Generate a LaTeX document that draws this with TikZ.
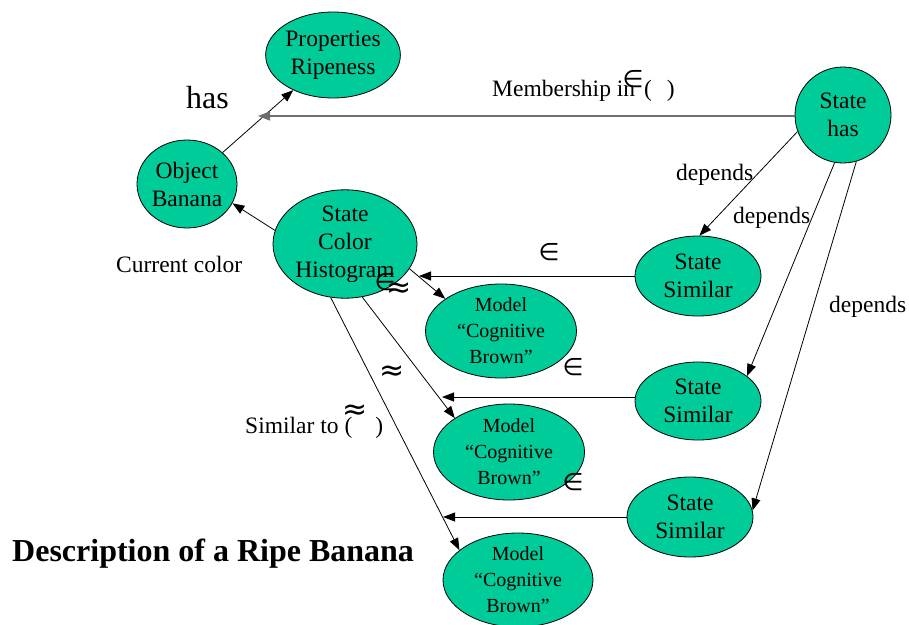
\documentclass[tikz,border=0pt]{standalone}
\usepackage{fontspec}
\setmainfont{Liberation Serif}
\newfontfamily\symf{DejaVu Sans}
\usetikzlibrary{shapes.geometric,arrows.meta}
\definecolor{nodegreen}{HTML}{00CC99}
\definecolor{linegray}{RGB}{110,110,110}
\tikzset{
  blob/.style={ellipse, draw=black, line width=0.8pt, fill=nodegreen, align=center, inner sep=0pt,
    font=\fontsize{23.5}{28}\selectfont},
  model/.style={blob, font=\fontsize{20}{26}\selectfont},
  arr/.style={-{Triangle[length=12pt,width=9pt]}, line width=0.8pt},
  lbl/.style={inner sep=0pt, anchor=base west, font=\fontsize{23.5}{28}\selectfont},
  sym/.style={inner sep=0pt, font=\symf\fontsize{24}{24}\selectfont},
  approx/.style={inner sep=0pt, font=\symf\fontsize{30}{30}\selectfont}
}
\begin{document}
\begin{tikzpicture}[x=1pt,y=-1pt]
\useasboundingbox (0,0) rectangle (909,624);
% nodes
\node[blob, minimum width=118, minimum height=86] (prop) at (333,55) {Properties\\Ripeness};
\node[blob, minimum width=100, minimum height=88] (obj) at (187,184) {Object\\Banana};
\node[blob, minimum width=144, minimum height=108] (hist) at (345,244) {State\\Color\\Histogram};
\node[blob, circle, minimum size=96] (has) at (843,115) {State\\has};
\node[blob, minimum width=126, minimum height=80] (s1) at (698,276) {State\\Similar};
\node[blob, minimum width=126, minimum height=78] (s2) at (698,401) {State\\Similar};
\node[blob, minimum width=126, minimum height=80] (s3) at (690,517) {State\\Similar};
\node[model, minimum width=151, minimum height=94] (m1) at (501,331) {Model\\“Cognitive\\Brown”};
\node[model, minimum width=151, minimum height=96] (m2) at (509,452) {Model\\“Cognitive\\Brown”};
\node[model, minimum width=150, minimum height=94] (m3) at (518,580) {Model\\“Cognitive\\Brown”};
% free ends
\coordinate (mem) at (258,116);
\coordinate (h1) at (419,276);
\coordinate (h2) at (442,397);
\coordinate (h3) at (443,517);
% connectors
\draw[arr] (obj) -- (prop);
\draw[arr, draw=linegray, line width=1.3pt] (has.west |- mem) -- (mem);
\draw[arr] (hist.169) -- (obj.-23);
\draw[arr] (has.-160) -- (s1.88);
\draw[arr] (has.-100) -- (s2.27);
\draw[arr] (has.-74) -- (s3.6);
\draw[arr] (s1) -- (h1);
\draw[arr] (s2.west |- h2) -- (h2);
\draw[arr] (s3) -- (h3);
\draw[arr] (hist.-21) -- (m1.150);
\draw[arr] (hist.-72) -- (m2.148);
\draw[arr] (hist.-105) -- (m3.153);
% labels
\node[lbl, font=\fontsize{32}{36}\selectfont] (lhas) at (186,108) {has};
\node[lbl] (lmem) at (492,96) {Membership in\hspace{9pt}(\hspace{15pt})};
\node[sym] (emem) at (633,79) {∈};
\node[lbl] (dep1) at (676,180) {depends};
\node[lbl] (dep2) at (733,223) {depends};
\node[lbl] (dep3) at (829,312) {depends};
\node[lbl] (cur) at (116,272) {Current color};
\node[lbl] (sim) at (245,433) {Similar to\hspace{6pt}(\hspace{23pt})};
\node[approx] (asim) at (355,412) {≈};
\node[sym] (e1) at (549,252) {∈};
\node[sym] (e2) at (573,367) {∈};
\node[sym] (e3) at (573,482) {∈};
\node[sym] (eh) at (385,282) {∈};
\node[approx] (ah) at (399,290) {≈};
\node[approx] (a2) at (392,373) {≈};
\node[lbl, font=\bfseries\fontsize{32}{36}\selectfont] (title) at (12,561) {Description of a Ripe Banana};
\end{tikzpicture}
\end{document}
